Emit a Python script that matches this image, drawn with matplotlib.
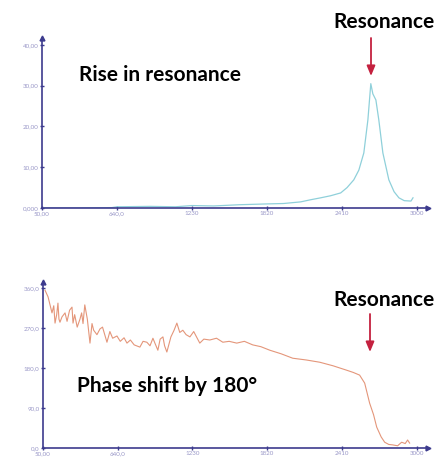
import matplotlib
matplotlib.use("Agg")
import matplotlib.pyplot as plt
from matplotlib.patches import FancyArrowPatch

# amplitude curve (frequency, amplitude)
amp_freq = [50, 300, 600, 640, 900, 1100, 1230, 1400, 1600, 1820, 1950, 2085,
            2160, 2243, 2320, 2400, 2450, 2503, 2543, 2582, 2614, 2637, 2653,
            2677, 2700, 2732, 2779, 2820, 2858, 2900, 2953, 2969]
amp_vals = [0.0, 0.0, 0.1, 0.3, 0.4, 0.3, 0.6, 0.5, 0.8, 1.0, 1.1, 1.5,
            2.0, 2.5, 3.0, 3.7, 5.0, 6.9, 9.3, 13.5, 21.6, 30.5, 28.0,
            26.5, 21.6, 13.5, 6.9, 4.0, 2.5, 1.8, 1.7, 2.5]

# phase curve (frequency, phase in degrees)
phase_freq = [66, 90, 121, 135, 145, 158, 168, 176, 184, 200, 224, 240, 260,
              279, 287, 300, 320, 342, 355, 366, 380, 400, 421, 437, 450, 476,
              500, 520, 555, 578, 600, 634, 660, 690, 713, 740, 770, 815, 840,
              870, 895, 918, 935, 957, 975, 997, 1010, 1028, 1060, 1085, 1107,
              1130, 1154, 1180, 1210, 1240, 1288, 1320, 1367, 1420, 1470, 1520,
              1580, 1640, 1706, 1770, 1841, 1930, 2022, 2130, 2235, 2340, 2448,
              2500, 2550, 2590, 2629, 2660, 2685, 2720, 2748, 2780, 2811, 2850,
              2882, 2910, 2929, 2945]
phase_vals = [355, 340, 304, 320, 281, 300, 326, 290, 283, 295, 304, 285, 310,
              317, 281, 300, 272, 290, 304, 280, 322, 290, 236, 280, 265, 255,
              268, 272, 238, 262, 247, 252, 240, 248, 236, 243, 232, 227, 240,
              238, 230, 247, 235, 220, 245, 250, 230, 216, 250, 265, 281,
              260, 265, 255, 250, 262, 236, 245, 243, 247, 238, 240,
              236, 240, 232, 228, 220, 212, 202, 198, 193, 185, 175,
              170, 164, 146, 101, 75, 47, 25, 13, 8, 7, 5,
              13, 10, 18, 11]

x_ticks = [50, 640, 1230, 1820, 2410, 3000]
x_labels = ["50,00", "640,0", "1230", "1820", "2410", "3000"]
amp_ticks = [0, 10, 20, 30, 40]
amp_labels = ["0,000", "10,00", "20,00", "30,00", "40,00"]
phase_ticks = [0, 90, 180, 270, 360]
phase_labels = ["0,0", "90,0", "180,0", "270,0", "360,0"]

W, H = 441, 457
AXIS = "#3d3b8e"
TICKC = "#9a98c8"

fig = plt.figure(figsize=(W / 100, H / 100), dpi=100)
plt.rcParams['font.family'] = ['Lato', 'DejaVu Sans']


def px_axes(x0, y0, x1, y1):
    return fig.add_axes([x0 / W, 1 - y1 / H, (x1 - x0) / W, (y1 - y0) / H])


def style(ax, yticks, ylabels):
    for s in ("top", "right"):
        ax.spines[s].set_visible(False)
    for s in ("left", "bottom"):
        ax.spines[s].set_color(AXIS)
        ax.spines[s].set_linewidth(1.2)
    ax.set_xticks(x_ticks)
    ax.set_xticklabels(x_labels)
    ax.set_yticks(yticks)
    ax.set_yticklabels(ylabels)
    ax.tick_params(direction="inout", length=3, width=1, color=AXIS,
                   labelsize=4.5, labelcolor=TICKC, pad=1)
    ax.plot(1, 0, ">", color=AXIS, ms=3.5, transform=ax.transAxes, clip_on=False)
    ax.plot(0, 1, "^", color=AXIS, ms=3.5, transform=ax.transAxes, clip_on=False)
    ax.patch.set_alpha(0)


# top: amplitude
ax1 = px_axes(42, 38, 428, 208)
ax1.plot(amp_freq, amp_vals, color="#8fd0da", lw=0.9)
ax1.set_xlim(50, 3087)
ax1.set_ylim(0, 41.7)
style(ax1, amp_ticks, amp_labels)

# bottom: phase
ax2 = px_axes(43, 282, 428, 448)
ax2.plot(phase_freq, phase_vals, color="#e4967a", lw=0.8)
ax2.set_xlim(50, 3090)
ax2.set_ylim(0, 373.5)
style(ax2, phase_ticks, phase_labels)

txt = dict(fontsize=15, fontweight="bold", color="black", ha="center", va="center")
fig.text(160 / W, 1 - 75 / H, "Rise in resonance", **txt)
fig.text(384 / W, 1 - 22 / H, "Resonance", **txt)
fig.text(384 / W, 1 - 300 / H, "Resonance", **txt)
fig.text(167 / W, 1 - 386 / H, "Phase shift by 180°", **txt)

arrow = dict(arrowstyle="-|>,head_width=0.25,head_length=0.6", color="#c4213f",
             lw=1.3, mutation_scale=10, shrinkA=0, shrinkB=0)
fig.add_artist(FancyArrowPatch(
    (371 / W, 1 - 38 / H), (371 / W, 1 - 76 / H), transform=fig.transFigure, **arrow))
fig.add_artist(FancyArrowPatch(
    (370 / W, 1 - 314 / H), (370 / W, 1 - 352 / H), transform=fig.transFigure, **arrow))

fig.savefig("out.png", dpi=100)
